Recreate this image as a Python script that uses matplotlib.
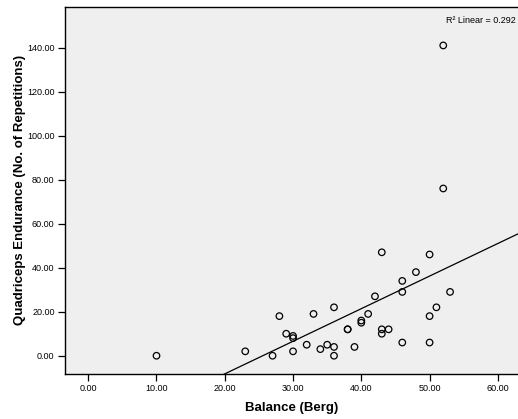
import numpy as np
import matplotlib
matplotlib.use("Agg")
import matplotlib.pyplot as plt

plt.rcParams['font.family'] = ['Liberation Sans', 'DejaVu Sans']

# Balance (Berg) vs quadriceps endurance
balance = [10, 23, 27, 28, 29, 30, 30, 30, 32, 33, 34, 35, 36, 36, 36, 38, 38, 39,
           40, 40, 41, 42, 43, 43, 43, 44, 46, 46, 46, 48, 50, 50, 50, 51, 52, 52, 53]
endurance = [0, 2, 0, 18, 10, 9, 8, 2, 5, 19, 3, 5, 22, 4, 0, 12, 12, 4,
             16, 15, 19, 27, 47, 12, 10, 12, 34, 29, 6, 38, 46, 18, 6, 22, 141, 76, 29]
x_ticks = [0, 10, 20, 30, 40, 50, 60]
y_ticks = [0, 20, 40, 60, 80, 100, 120, 140]
r2_label = "R\u00b2 Linear = 0.292"

fig = plt.figure(figsize=(5.18, 4.19), dpi=100)
ax = fig.add_axes([0.1255, 0.1074, 0.8745, 0.8766])
ax.set_facecolor("#efefef")

ax.scatter(balance, endurance, s=22, facecolors="none", edgecolors="black",
           linewidths=0.9, zorder=3)

# linear fit line across the axis range
slope, intercept = np.polyfit(balance, endurance, 1)
xs = np.array([-3.4, 63.0])
ax.plot(xs, slope * xs + intercept, color="black", linewidth=0.9, zorder=2)

ax.set_xlim(-3.4, 62.95)
ax.set_ylim(-8.3, 158.6)
ax.set_xticks(x_ticks)
ax.set_yticks(y_ticks)
ax.set_xticklabels([f"{v:.2f}" for v in x_ticks])
ax.set_yticklabels([f"{v:.2f}" for v in y_ticks])
ax.tick_params(labelsize=6.5, length=5, width=0.9, direction="out", pad=2.5)

for side in ["left", "bottom", "top"]:
    ax.spines[side].set_linewidth(1.0)
ax.spines["right"].set_visible(False)

ax.set_xlabel("Balance (Berg)", fontsize=9.5, fontweight="bold", labelpad=6)
ax.set_ylabel("Quadriceps Endurance (No. of Repetitions)", fontsize=9.5,
              fontweight="bold", labelpad=1)

ax.text(0.995, 0.975, r2_label, transform=ax.transAxes, ha="right", va="top",
        fontsize=6.5)

fig.savefig("out.png", dpi=100)
